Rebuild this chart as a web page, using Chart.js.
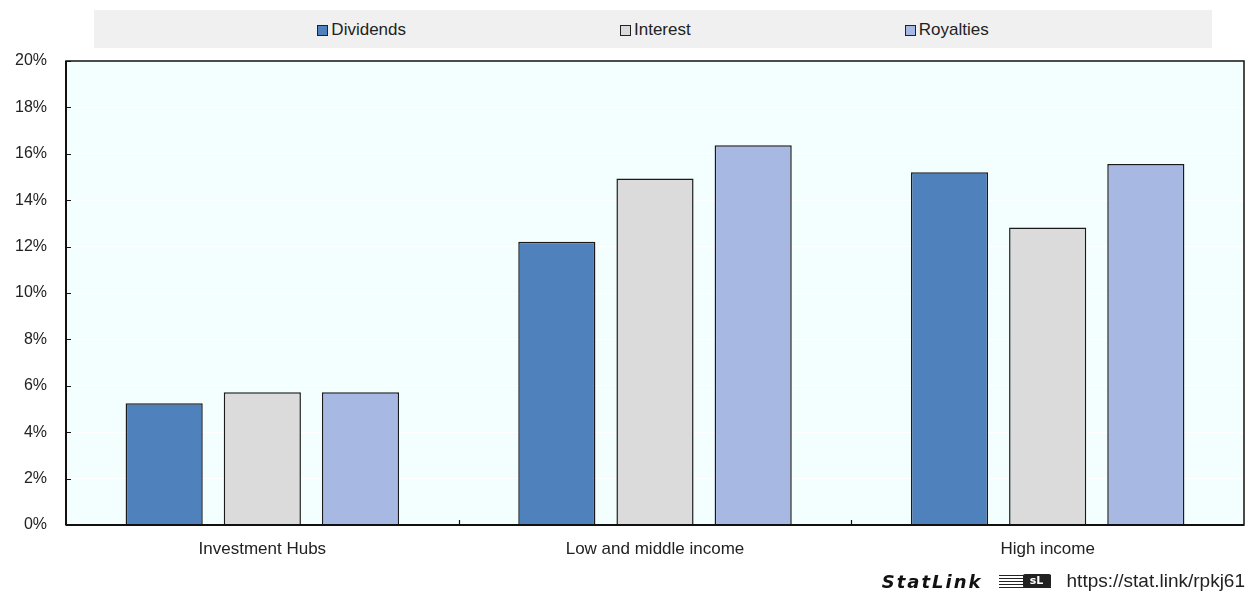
<!DOCTYPE html>
<html>
<head>
<meta charset="utf-8">
<script src="https://cdn.jsdelivr.net/npm/chart.js@4"></script>
<style>
  html, body { margin: 0; padding: 0; background: #fff; }
  #wrap { position: relative; width: 1247px; height: 598px; font-family: "Liberation Sans", Arial, sans-serif; color: #222; }
  #legend {
    position: absolute; left: 94px; top: 10px; width: 1118px; height: 38px;
    background: #f0f0f0; display: flex; justify-content: center; align-items: center; gap: 214px;
    font-size: 17px; padding-top: 2px; box-sizing: border-box;
  }
  #legend .item { display: flex; align-items: center; }
  #legend .box { width: 9px; height: 9px; border: 1px solid #222; margin-right: 3px; }
  #statlink {
    position: absolute; right: 2px; top: 570px; display: flex; align-items: center; white-space: nowrap;
  }
  #statlink .brand { font-family: "DejaVu Sans", sans-serif; font-weight: bold; font-style: italic; font-size: 18px; letter-spacing: 2px; color: #111; }
  #statlink .icon { display: inline-block; width: 52px; height: 13px; margin: 0 16px 0 16px; position: relative;
    background: repeating-linear-gradient(180deg, #222 0 1.5px, transparent 1.5px 3px); }
  #statlink .icon::after { content: "sL"; position: absolute; right: 0; top: -1px; width: 28px; height: 14px; background: #222; color: #fff;
    font: bold 11px "DejaVu Sans", sans-serif; text-align: center; line-height: 14px; border-radius: 2px; }
  #statlink .url { font-size: 19px; color: #222; }
</style>
</head>
<body>
<div id="wrap">
  <canvas id="chart" width="1247" height="598"></canvas>
  <div id="legend"></div>
  <div id="statlink"><span class="brand">StatLink</span><span class="icon"></span><span class="url">https://stat.link/rpkj61</span></div>
</div>
<script>
  "use strict";

  // data
  const categories = ["Investment Hubs", "Low and middle income", "High income"];
  const dividends = [5.25, 12.21, 15.21];
  const interest = [5.72, 14.94, 12.82];
  const royalties = [5.72, 16.37, 15.56];
  const yMin = 0, yMax = 20, yStep = 2;

  const seriesNames = ["Dividends", "Interest", "Royalties"];
  const seriesColors = ["#4f81bd", "#dbdbdb", "#a7b9e3"];

  // html legend
  const legendEl = document.getElementById("legend");
  legendEl.innerHTML = seriesNames.map((n, i) =>
    `<div class="item"><span class="box" style="background:${seriesColors[i]}"></span>${n}</div>`).join("");

  // plot background, frame and inward ticks
  const framePlugin = {
    id: "frame",
    beforeDraw(chart) {
      const a = chart.chartArea, ctx = chart.ctx;
      ctx.save();
      ctx.fillStyle = "#f3ffff";
      ctx.fillRect(a.left, a.top, a.right - a.left, a.bottom - a.top);
      ctx.restore();
    },
    afterDraw(chart) {
      const a = chart.chartArea, ctx = chart.ctx;
      const y = chart.scales.y, x = chart.scales.x;
      ctx.save();
      ctx.strokeStyle = "#111";
      ctx.lineWidth = 1.5;
      ctx.strokeRect(a.left, a.top, a.right - a.left, a.bottom - a.top);
      ctx.lineWidth = 2;
      ctx.beginPath();
      ctx.moveTo(a.left, a.bottom); ctx.lineTo(a.right, a.bottom);
      ctx.moveTo(a.left, a.top); ctx.lineTo(a.left, a.bottom);
      ctx.stroke();
      ctx.lineWidth = 1.2;
      ctx.beginPath();
      y.ticks.forEach(t => {
        const py = Math.round(y.getPixelForValue(t.value)) + 0.5;
        ctx.moveTo(a.left, py); ctx.lineTo(a.left + 5, py);
      });
      for (let i = 0; i < categories.length - 1; i++) {
        const px = Math.round((x.getPixelForValue(i) + x.getPixelForValue(i + 1)) / 2) + 0.5;
        ctx.moveTo(px, a.bottom); ctx.lineTo(px, a.bottom - 5);
      }
      ctx.stroke();
      ctx.restore();
    }
  };

  new Chart(document.getElementById("chart"), {
    type: "bar",
    data: {
      labels: categories,
      datasets: [dividends, interest, royalties].map((d, i) => ({
        label: seriesNames[i],
        data: d,
        backgroundColor: seriesColors[i],
        borderColor: "#1a1a1a",
        borderWidth: 1.5,
        categoryPercentage: 0.75,
        barPercentage: 0.786,
      })),
    },
    options: {
      responsive: false,
      animation: false,
      layout: { padding: { top: 61, right: 3, bottom: 33, left: 0 } },
      plugins: { legend: { display: false }, tooltip: { enabled: false } },
      scales: {
        x: {
          grid: { display: false },
          border: { display: false },
          ticks: { color: "#222", font: { family: "Liberation Sans", size: 17 }, padding: 6, maxRotation: 0 },
          afterFit(s) { s.height = 40; },
        },
        y: {
          min: yMin,
          max: yMax,
          grid: { color: "#ffffff", lineWidth: 1, drawTicks: false },
          border: { display: false },
          ticks: {
            stepSize: yStep,
            color: "#222",
            padding: 19,
            font: { family: "Liberation Sans", size: 16 },
            callback: v => v + "%",
          },
          afterFit(s) { s.width = 66; },
        },
      },
    },
    plugins: [framePlugin],
  });
</script>
</body>
</html>
